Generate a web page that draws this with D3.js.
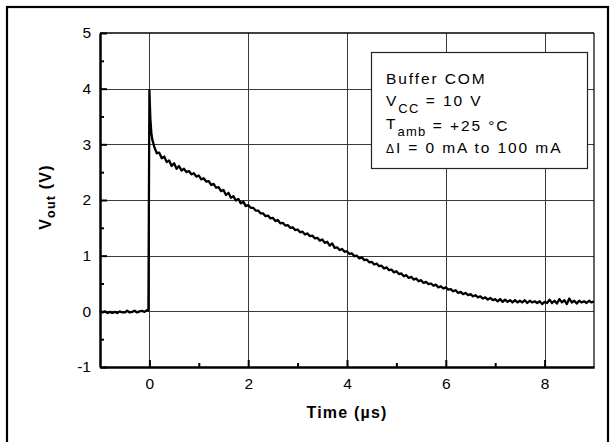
<!DOCTYPE html>
<html>
<head>
<meta charset="utf-8">
<script src="https://cdn.jsdelivr.net/npm/d3@7"></script>
<style>
  html, body { margin: 0; padding: 0; background: #fff; }
  svg { display: block; }
  text { font-family: "Liberation Sans", Arial, Helvetica, sans-serif; fill: #000; }
</style>
</head>
<body>
<svg id="chart" width="615" height="442"></svg>
<script>
// Output voltage transient of the buffer after a 0 -> 100 mA load step
const timeUs = [
  -1.00, -0.95, -0.90, -0.85, -0.80, -0.75, -0.70, -0.65, -0.60, -0.55,
  -0.50, -0.45, -0.40, -0.35, -0.30, -0.25, -0.20, -0.15, -0.10, -0.05,
  -0.03, -0.02, 0.00, 0.01, 0.02, 0.04, 0.06, 0.08,
  0.10, 0.15, 0.20, 0.25, 0.30, 0.35, 0.40, 0.45, 0.50, 0.55,
  0.60, 0.65, 0.70, 0.75, 0.80, 0.85, 0.90, 0.95, 1.00, 1.05,
  1.10, 1.15, 1.20, 1.25, 1.30, 1.35, 1.40, 1.45, 1.50, 1.55,
  1.60, 1.65, 1.70, 1.75, 1.80, 1.85, 1.90, 1.95, 2.00, 2.05,
  2.10, 2.15, 2.20, 2.25, 2.30, 2.35, 2.40, 2.45, 2.50, 2.55,
  2.60, 2.65, 2.70, 2.75, 2.80, 2.85, 2.90, 2.95, 3.00, 3.05,
  3.10, 3.15, 3.20, 3.25, 3.30, 3.35, 3.40, 3.45, 3.50, 3.55,
  3.60, 3.65, 3.70, 3.75, 3.80, 3.85, 3.90, 3.95, 4.00, 4.05,
  4.10, 4.15, 4.20, 4.25, 4.30, 4.35, 4.40, 4.45, 4.50, 4.55,
  4.60, 4.65, 4.70, 4.75, 4.80, 4.85, 4.90, 4.95, 5.00, 5.05,
  5.10, 5.15, 5.20, 5.25, 5.30, 5.35, 5.40, 5.45, 5.50, 5.55,
  5.60, 5.65, 5.70, 5.75, 5.80, 5.85, 5.90, 5.95, 6.00, 6.05,
  6.10, 6.15, 6.20, 6.25, 6.30, 6.35, 6.40, 6.45, 6.50, 6.55,
  6.60, 6.65, 6.70, 6.75, 6.80, 6.85, 6.90, 6.95, 7.00, 7.05,
  7.10, 7.15, 7.20, 7.25, 7.30, 7.35, 7.40, 7.45, 7.50, 7.55,
  7.60, 7.65, 7.70, 7.75, 7.80, 7.85, 7.90, 7.95, 8.00, 8.05,
  8.10, 8.15, 8.20, 8.25, 8.30, 8.35, 8.40, 8.45, 8.50, 8.55,
  8.60, 8.65, 8.70, 8.75, 8.80, 8.85, 8.90, 8.95, 9.00
];
const vOut = [
  0.01, -0.02, 0.00, -0.03, -0.01, -0.03, -0.01, -0.03, 0.00, -0.02,
  -0.02, 0.01, -0.02, -0.01, 0.01, -0.02, 0.00, 0.01, -0.01, 0.02,
  0.01, 0.02, 3.98, 3.70, 3.45, 3.20, 3.08, 3.02,
  2.95, 2.84, 2.85, 2.75, 2.78, 2.68, 2.71, 2.61, 2.66, 2.56,
  2.61, 2.53, 2.56, 2.50, 2.52, 2.46, 2.48, 2.42, 2.44, 2.37,
  2.39, 2.33, 2.34, 2.27, 2.29, 2.22, 2.23, 2.16, 2.18, 2.09,
  2.13, 2.04, 2.07, 1.99, 2.02, 1.94, 1.97, 1.89, 1.91, 1.86,
  1.86, 1.81, 1.81, 1.76, 1.76, 1.71, 1.72, 1.67, 1.68, 1.62,
  1.64, 1.58, 1.59, 1.54, 1.55, 1.50, 1.51, 1.46, 1.47, 1.42,
  1.43, 1.38, 1.40, 1.35, 1.36, 1.31, 1.32, 1.27, 1.29, 1.23,
  1.25, 1.18, 1.22, 1.14, 1.15, 1.10, 1.12, 1.07, 1.08, 1.03,
  1.04, 0.99, 1.00, 0.95, 0.97, 0.92, 0.93, 0.88, 0.89, 0.84,
  0.86, 0.81, 0.82, 0.77, 0.79, 0.74, 0.75, 0.70, 0.72, 0.67,
  0.68, 0.63, 0.65, 0.60, 0.62, 0.57, 0.59, 0.54, 0.56, 0.51,
  0.53, 0.49, 0.50, 0.46, 0.48, 0.43, 0.45, 0.41, 0.43, 0.39,
  0.40, 0.36, 0.38, 0.33, 0.35, 0.31, 0.33, 0.29, 0.31, 0.27,
  0.29, 0.25, 0.27, 0.23, 0.25, 0.21, 0.24, 0.20, 0.22, 0.18,
  0.22, 0.17, 0.21, 0.17, 0.20, 0.16, 0.20, 0.16, 0.19, 0.16,
  0.20, 0.15, 0.19, 0.16, 0.18, 0.15, 0.18, 0.13, 0.17, 0.15,
  0.21, 0.15, 0.19, 0.14, 0.22, 0.16, 0.20, 0.13, 0.23, 0.16,
  0.19, 0.14, 0.19, 0.16, 0.18, 0.15, 0.19, 0.16, 0.18
];

const xMajorTicks = [0, 2, 4, 6, 8];
const xMinorTicks = [1, 3, 5, 7];
const yMajorTicks = [-1, 0, 1, 2, 3, 4, 5];
const yMinorTicks = [-0.5, 0.5, 1.5, 2.5, 3.5, 4.5];

const xTitle = "Time (µs)";
const yTitleMain = "V", yTitleSub = "out", yTitleRest = " (V)";

// Legend lines: [main, subscript, remainder]
const legendLines = [
  ["Buffer COM", "", ""],
  ["V", "CC", " = 10 V"],
  ["T", "amb", " = +25 °C"],
  ["ΔI = 0 mA to 100 mA", "", ""]
];

const svg = d3.select("#chart");
const plot = { left: 100, right: 594, top: 33, bottom: 367 };

const x = d3.scaleLinear().domain([-1, 9]).range([plot.left, plot.right]);
const y = d3.scaleLinear().domain([-1, 5]).range([plot.bottom, plot.top]);

// Outer frame (its bottom runs past the page edge)
svg.append("rect")
  .attr("x", 7).attr("y", 7)
  .attr("width", 601).attr("height", 460)
  .attr("fill", "none").attr("stroke", "#000").attr("stroke-width", 2.2);

// Grid
const grid = svg.append("g").attr("stroke", "#3a3a3a").attr("stroke-width", 1);
grid.selectAll(".gx").data(xMajorTicks).join("line")
  .attr("x1", d => Math.round(x(d)) + 0.5).attr("x2", d => Math.round(x(d)) + 0.5)
  .attr("y1", plot.top).attr("y2", plot.bottom);
grid.selectAll(".gy").data(yMajorTicks.filter(d => d > -1 && d < 5)).join("line")
  .attr("y1", d => Math.round(y(d)) + 0.5).attr("y2", d => Math.round(y(d)) + 0.5)
  .attr("x1", plot.left).attr("x2", plot.right);

// Plot border: top and right thin, left and bottom heavier
svg.append("line").attr("x1", plot.left).attr("x2", plot.right)
  .attr("y1", plot.top).attr("y2", plot.top).attr("stroke", "#000").attr("stroke-width", 1.5);
svg.append("line").attr("x1", plot.right).attr("x2", plot.right)
  .attr("y1", plot.top).attr("y2", plot.bottom).attr("stroke", "#000").attr("stroke-width", 1.2);

// Axes with inward ticks
const fmt = d => String(d);
const xAxisMajor = d3.axisBottom(x).tickValues(xMajorTicks).tickSizeInner(-7).tickSizeOuter(0).tickPadding(11).tickFormat(fmt);
const xAxisMinor = d3.axisBottom(x).tickValues(xMinorTicks).tickSizeInner(-4).tickSizeOuter(0).tickFormat("");
const yAxisMajor = d3.axisLeft(y).tickValues(yMajorTicks).tickSizeInner(-7).tickSizeOuter(0).tickPadding(9).tickFormat(fmt);
const yAxisMinor = d3.axisLeft(y).tickValues(yMinorTicks).tickSizeInner(-4).tickSizeOuter(0).tickFormat("");

function styleAxis(g) {
  g.select(".domain").attr("stroke", "#000").attr("stroke-width", 2);
  g.selectAll(".tick line").attr("stroke", "#000").attr("stroke-width", 2);
  g.selectAll(".tick text").attr("font-size", 15.5).attr("font-family", '"Liberation Sans", Arial, sans-serif').attr("fill", "#000");
}

svg.append("g").attr("transform", `translate(0,${plot.bottom})`).call(xAxisMinor).call(styleAxis);
svg.append("g").attr("transform", `translate(${plot.left},0)`).call(yAxisMinor).call(styleAxis);
svg.append("g").attr("transform", `translate(0,${plot.bottom})`).call(xAxisMajor).call(styleAxis);
svg.append("g").attr("transform", `translate(${plot.left},0)`).call(yAxisMajor).call(styleAxis);

// Trace
const line = d3.line().x((d, i) => x(timeUs[i])).y(d => y(d));
svg.append("path")
  .datum(vOut)
  .attr("d", line)
  .attr("fill", "none")
  .attr("stroke", "#000")
  .attr("stroke-width", 2.3)
  .attr("stroke-linejoin", "round");

// Legend box
const lg = svg.append("g");
lg.append("rect")
  .attr("x", 371.5).attr("y", 52.5).attr("width", 216).attr("height", 116)
  .attr("fill", "#fff").attr("stroke", "#222").attr("stroke-width", 1.2);

const baselines = [84, 105.5, 128.5, 153];
legendLines.forEach((ln, i) => {
  const t = lg.append("text")
    .attr("x", 386).attr("y", baselines[i])
    .attr("font-size", 15.5).attr("letter-spacing", "1.9px");
  if (i === 3) {
    t.append("tspan").attr("font-size", 12).text(ln[0].charAt(0));
    t.append("tspan").text(ln[0].slice(1));
  } else {
    t.append("tspan").text(ln[0]);
  }
  if (ln[1]) {
    t.append("tspan").attr("font-size", 13).attr("letter-spacing", "1.3px").attr("dy", 7.5).text(ln[1]);
    t.append("tspan").attr("dy", i === 2 ? -5.5 : -7.5).text(ln[2]);
  }
});

// Axis titles
svg.append("text")
  .attr("x", 347).attr("y", 418)
  .attr("text-anchor", "middle")
  .attr("font-size", 16).attr("font-weight", "bold").attr("letter-spacing", "1.2px")
  .text(xTitle);

const yt = svg.append("text")
  .attr("transform", "translate(51,197) rotate(-90)")
  .attr("text-anchor", "middle")
  .attr("font-size", 16).attr("font-weight", "bold").attr("letter-spacing", "1.2px");
yt.append("tspan").text(yTitleMain);
yt.append("tspan").attr("font-size", 12.5).attr("dy", 4).text(yTitleSub);
yt.append("tspan").attr("dy", -4).text(yTitleRest);
</script>
</body>
</html>
